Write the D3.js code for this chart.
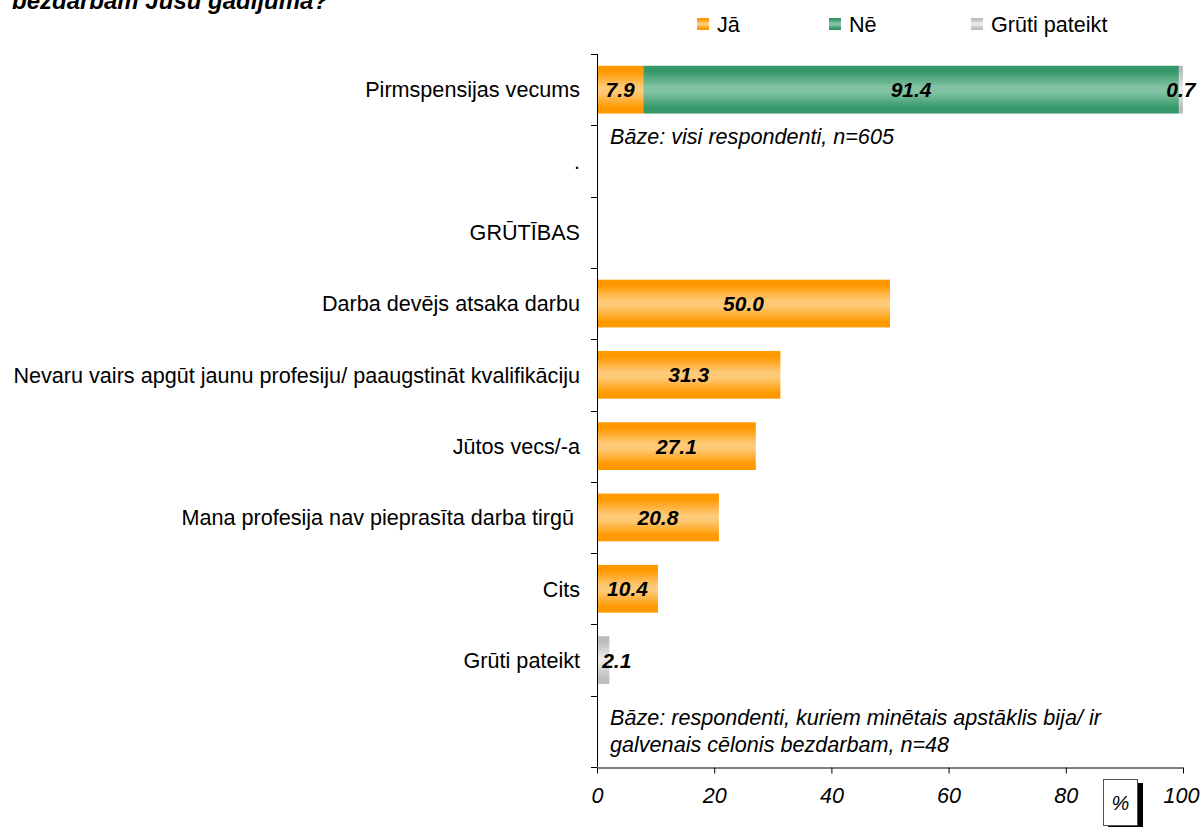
<!DOCTYPE html>
<html>
<head>
<meta charset="utf-8">
<script src="https://cdn.jsdelivr.net/npm/d3@7"></script>
<style>
  html, body { margin: 0; padding: 0; background: #fff; }
  svg { display: block; font-family: "Liberation Sans", Arial, sans-serif; }
  text { white-space: pre; }
</style>
</head>
<body>
<svg id="chart" width="1200" height="827"></svg>
<script>
// Row labels, top to bottom
const categories = [
  "Pirmspensijas vecums",
  ".",
  "GRŪTĪBAS",
  "Darba devējs atsaka darbu",
  "Nevaru vairs apgūt jaunu profesiju/ paaugstināt kvalifikāciju",
  "Jūtos vecs/-a",
  "Mana profesija nav pieprasīta darba tirgū ",
  "Cits",
  "Grūti pateikt",
  " "
];
// Percent per answer, one entry per row (0 = nothing drawn)
const jaValues    = [7.9, 0, 0, 50.0, 31.3, 27.1, 20.8, 10.4, 0, 0];
const neValues    = [91.4, 0, 0, 0, 0, 0, 0, 0, 0, 0];
const grutiValues = [0.7, 0, 0, 0, 0, 0, 0, 0, 2.1, 0];
const seriesNames = ["Jā", "Nē", "Grūti pateikt"];
const xTicks = [0, 20, 40, 60, 80, 100];
const titleText = "bezdarbam Jūsu gadījumā?";
const baseNoteTop = "Bāze: visi respondenti, n=605";
const baseNoteBottom = ["Bāze: respondenti, kuriem minētais apstāklis bija/ ir", "galvenais cēlonis bezdarbam, n=48"];

const svg = d3.select("#chart");

// Gradients: darker edges, lighter middle
const defs = svg.append("defs");
const palettes = [
  { id: "g-ja", edge: "#ff9900", mid: "#ffca78" },
  { id: "g-ne", edge: "#36976a", mid: "#82c4a3" },
  { id: "g-gr", edge: "#bdbdbd", mid: "#e9e9e9" }
];
palettes.forEach(p => {
  const g = defs.append("linearGradient").attr("id", p.id)
    .attr("x1", 0).attr("y1", 0).attr("x2", 0).attr("y2", 1);
  g.append("stop").attr("offset", "0%").attr("stop-color", p.edge);
  g.append("stop").attr("offset", "12%").attr("stop-color", p.edge);
  g.append("stop").attr("offset", "45%").attr("stop-color", p.mid);
  g.append("stop").attr("offset", "55%").attr("stop-color", p.mid);
  g.append("stop").attr("offset", "88%").attr("stop-color", p.edge);
  g.append("stop").attr("offset", "100%").attr("stop-color", p.edge);
});

const x = d3.scaleLinear().domain([0, 100]).range([597, 1183]);
const y = d3.scaleBand().domain(categories).range([54, 767]).paddingInner(0.33).paddingOuter(0.165);
const yTickScale = d3.scaleBand().domain(categories).range([54, 767]);

const labelSize = 21.6;

// Title (partly above the visible area)
svg.append("text").attr("x", 12).attr("y", 9)
  .attr("font-size", 24).attr("font-style", "italic").attr("font-weight", "bold")
  .text(titleText);

// Stacked data
const rows = categories.map((c, i) => ({ cat: c, ja: jaValues[i], ne: neValues[i], gr: grutiValues[i] }));
const stack = d3.stack().keys(["ja", "ne", "gr"]);
const stacked = stack(rows);
const fills = ["url(#g-ja)", "url(#g-ne)", "url(#g-gr)"];

stacked.forEach((layer, li) => {
  const g = svg.append("g");
  layer.forEach(d => {
    const v = d[1] - d[0];
    if (v <= 0) return;
    g.append("rect")
      .attr("x", x(d[0]))
      .attr("y", y(d.data.cat))
      .attr("width", x(d[1]) - x(d[0]))
      .attr("height", y.bandwidth())
      .attr("fill", fills[li]);
  });
});

// Value labels
stacked.forEach((layer, li) => {
  layer.forEach(d => {
    const v = d[1] - d[0];
    if (v <= 0) return;
    const label = v.toFixed(1);
    const halfW = label.length * 5.6;
    let cx = (x(d[0]) + x(d[1])) / 2;
    if (x(d[1]) - x(d[0]) < 2 * halfW && d[0] === 0) cx = x(d[0]) + 3 + halfW;
    svg.append("text")
      .attr("x", cx)
      .attr("y", y(d.data.cat) + y.bandwidth() / 2)
      .attr("dy", "0.36em")
      .attr("text-anchor", "middle")
      .attr("font-size", 21).attr("font-weight", "bold").attr("font-style", "italic")
      .text(label);
  });
});

// Y axis: line, ticks at band boundaries, labels
const axisColor = "#000";
svg.append("line").attr("x1", 597.5).attr("x2", 597.5).attr("y1", 54).attr("y2", 767)
  .attr("stroke", axisColor).attr("stroke-width", 1);
const yBounds = categories.map(c => yTickScale(c)).concat([767]);
svg.append("g").selectAll("line").data(yBounds).join("line")
  .attr("x1", 591).attr("x2", 597).attr("y1", d => Math.round(d) + 0.5).attr("y2", d => Math.round(d) + 0.5)
  .attr("stroke", axisColor);
svg.append("g").selectAll("text").data(categories).join("text")
  .attr("x", 580)
  .attr("y", d => yTickScale(d) + yTickScale.bandwidth() / 2)
  .attr("dy", "0.36em")
  .attr("text-anchor", "end")
  .attr("font-size", labelSize)
  .text(d => d);

// X axis
const xAxis = d3.axisBottom(x).tickValues(xTicks).tickSize(6).tickSizeOuter(0).tickPadding(14);
const xg = svg.append("g").attr("transform", "translate(0,767.5)").call(xAxis);
xg.select(".domain").attr("stroke", axisColor);
xg.selectAll(".tick line").attr("stroke", axisColor);
xg.selectAll(".tick text").attr("font-size", labelSize).attr("font-style", "italic")
  .attr("font-family", "Liberation Sans, Arial, sans-serif").attr("fill", "#000");
// keep the last label inside the frame
xg.selectAll(".tick text").filter(d => d === 100).attr("text-anchor", "end").attr("x", 16);

// Base notes
svg.append("text").attr("x", 610).attr("y", 144)
  .attr("font-size", labelSize).attr("font-style", "italic").text(baseNoteTop);
baseNoteBottom.forEach((t, i) => {
  svg.append("text").attr("x", 610).attr("y", 725 + i * 27)
    .attr("font-size", labelSize).attr("font-style", "italic").text(t);
});

// Unit box with drop shadow
svg.append("rect").attr("x", 1108).attr("y", 783).attr("width", 35).attr("height", 46).attr("fill", "#000");
svg.append("rect").attr("x", 1103.5).attr("y", 779.5).attr("width", 34).attr("height", 46)
  .attr("fill", "#fff").attr("stroke", "#555");
svg.append("text").attr("x", 1120.5).attr("y", 810).attr("text-anchor", "middle")
  .attr("font-size", 20).attr("font-style", "italic").text("%");

// Legend
const legendX = [697, 829, 971];
seriesNames.forEach((n, i) => {
  svg.append("rect").attr("x", legendX[i]).attr("y", 18).attr("width", 12).attr("height", 12)
    .attr("fill", fills[i]);
  svg.append("text").attr("x", legendX[i] + 20).attr("y", 24).attr("dy", "0.36em")
    .attr("font-size", labelSize).text(n);
});
</script>
</body>
</html>
